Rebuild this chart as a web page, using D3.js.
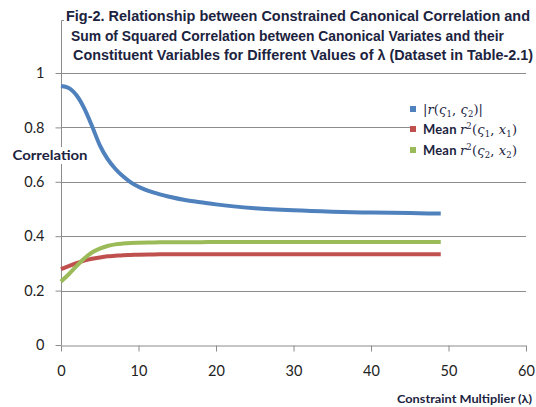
<!DOCTYPE html>
<html>
<head>
<meta charset="utf-8">
<script src="https://cdn.jsdelivr.net/npm/d3@7"></script>
<style>
  body { margin: 0; background: #fff; }
  svg { display: block; }
  .tick text { font-family: Lato, "Open Sans", sans-serif; font-size: 14.5px; fill: #222; }
</style>
</head>
<body>
<svg id="chart" width="536" height="407"></svg>
<script>
// lambda values the curves were read at
const lambdas = [0, 1, 2, 3, 4, 5, 6, 7, 8, 9, 10, 12, 14, 16, 18, 20, 25, 30, 35, 40, 45, 49]
// |r(s1,s2)|
const canonCorr = [0.952, 0.945, 0.918, 0.870, 0.805, 0.735, 0.684, 0.648, 0.620, 0.598, 0.582,
  0.560, 0.545, 0.533, 0.525, 0.517, 0.503, 0.495, 0.490, 0.487, 0.485, 0.483]
// mean r^2(s1,x1)
const meanR2x1 = [0.279, 0.290, 0.301, 0.310, 0.317, 0.322, 0.326, 0.328, 0.330, 0.331, 0.332,
  0.333, 0.334, 0.334, 0.334, 0.334, 0.334, 0.334, 0.334, 0.334, 0.334, 0.334]
// mean r^2(s2,x2)
const meanR2x2 = [0.233, 0.260, 0.290, 0.318, 0.340, 0.354, 0.364, 0.370, 0.373, 0.375, 0.376,
  0.377, 0.378, 0.378, 0.378, 0.379, 0.379, 0.379, 0.379, 0.379, 0.379, 0.379]

const yTicks = [0, 0.2, 0.4, 0.6, 0.8, 1]
const xTicks = [0, 10, 20, 30, 40, 50, 60]
const titleLines = [
  'Fig-2. Relationship between Constrained Canonical Correlation and',
  'Sum of Squared Correlation between Canonical Variates and their',
  'Constituent Variables for Different Values of \u03bb (Dataset in Table-2.1)'
]

const svg = d3.select('#chart')
const xScale = d3.scaleLinear().domain([0, 60]).range([61, 526])
const yScale = d3.scaleLinear().domain([0, 1]).range([345, 73])
const gridColor = '#8c8c8c'

// gridlines
svg.append('g')
  .selectAll('line')
  .data(yTicks.filter(d => d > 0))
  .enter()
  .append('line')
  .attr('x1', xScale(0))
  .attr('x2', xScale(60))
  .attr('y1', d => Math.round(yScale(d)) + 0.5)
  .attr('y2', d => Math.round(yScale(d)) + 0.5)
  .style('stroke', gridColor)
  .style('stroke-width', 1)

// y axis
const yAxis = d3.axisLeft(yScale)
  .tickValues(yTicks)
  .tickSize(6)
  .tickPadding(11)
  .tickFormat(d => d === 0 || d === 1 ? String(d) : d.toFixed(1))
const gy = svg.append('g')
  .attr('transform', 'translate(' + (xScale(0) + 0.5) + ',0)')
  .call(yAxis)
gy.select('.domain').remove()
gy.selectAll('.tick line').style('stroke', gridColor)
svg.append('path')
  .attr('d', 'M64,20.5H61.5V345')
  .style('fill', 'none')
  .style('stroke', gridColor)

// x axis
const xAxis = d3.axisBottom(xScale)
  .tickValues(xTicks)
  .tickSize(6)
  .tickSizeOuter(0)
  .tickPadding(14)
const gx = svg.append('g')
  .attr('transform', 'translate(0,' + (yScale(0) + 0.5) + ')')
  .call(xAxis)
gx.select('.domain').style('stroke', gridColor)
gx.selectAll('.tick line').style('stroke', gridColor)

// series lines
const series = [
  { values: canonCorr, color: '#4f81bd', w: 60 },
  { values: meanR2x1, color: '#c0504d', w: 94 },
  { values: meanR2x2, color: '#9bbb59', w: 94 }
]
const line = d3.line()
  .x((d, i) => xScale(lambdas[i]))
  .y(d => yScale(d))
  .curve(d3.curveMonotoneX)

svg.append('g')
  .selectAll('path')
  .data(series)
  .enter()
  .append('path')
  .attr('d', d => line(d.values))
  .style('fill', 'none')
  .style('stroke', d => d.color)
  .style('stroke-width', 4)
  .style('stroke-linejoin', 'round')

// title
const titleX = [66, 71, 73]
const titleW = [464, 433, 460]
svg.append('g')
  .selectAll('text')
  .data(titleLines)
  .enter()
  .append('text')
  .attr('x', (d, i) => titleX[i])
  .attr('y', (d, i) => 21 + i * 19.5)
  .attr('textLength', (d, i) => titleW[i])
  .attr('lengthAdjust', 'spacingAndGlyphs')
  .style('font-family', '"Liberation Sans Narrow", "Arial Narrow", "Liberation Sans", sans-serif')
  .style('font-weight', 'bold')
  .style('font-size', '14.5px')
  .style('fill', '#1c2340')
  .text(d => d)

// y axis title with white box behind it
svg.append('rect')
  .attr('x', 11).attr('y', 147).attr('width', 79).attr('height', 17)
  .style('fill', '#fff')
svg.append('text')
  .attr('x', 12.5)
  .attr('y', 160)
  .attr('textLength', 75)
  .attr('lengthAdjust', 'spacingAndGlyphs')
  .style('font-family', 'Lato, "Open Sans", sans-serif')
  .style('font-weight', 'bold')
  .style('font-size', '13px')
  .style('fill', '#1c2340')
  .text('Correlation')

// x axis title
svg.append('text')
  .attr('x', 397)
  .attr('y', 403)
  .attr('textLength', 135)
  .attr('lengthAdjust', 'spacingAndGlyphs')
  .style('font-family', 'Lato, "Open Sans", sans-serif')
  .style('font-weight', 'bold')
  .style('font-size', '11px')
  .style('fill', '#1c2340')
  .text('Constraint Multiplier (\u03bb)')

// legend
svg.append('rect')
  .attr('x', 410).attr('y', 94).attr('width', 118).attr('height', 68)
  .style('fill', '#fff')
const legendY = [109, 129, 150]
const lg = svg.append('g')
  .selectAll('g')
  .data(series)
  .enter()
  .append('g')
  .attr('transform', (d, i) => 'translate(413,' + legendY[i] + ')')
lg.append('rect')
  .attr('x', -3).attr('y', -3).attr('width', 6).attr('height', 6)
  .style('fill', d => d.color)

const mathFont = '"DejaVu Serif", "Liberation Serif", serif'
const sansFont = 'Lato, "Open Sans", sans-serif'
function addLabel(g, parts, w) {
  const t = g.append('text')
    .attr('x', 10)
    .attr('y', 4.5)
    .attr('textLength', w)
    .attr('lengthAdjust', 'spacing')
    .style('font-size', '13px')
    .style('fill', '#1c2340')
  parts.forEach(p => {
    const s = t.append('tspan')
      .style('font-family', p.sans ? sansFont : mathFont)
      .style('font-weight', p.sans ? 'bold' : 'normal')
      .style('font-style', p.it ? 'italic' : 'normal')
      .text(p.t)
    if (p.sub) s.attr('baseline-shift', '-3').style('font-size', '8.5px')
    if (p.sup) s.attr('baseline-shift', '5').style('font-size', '8.5px')
  })
}
addLabel(d3.select(lg.nodes()[0]), [
  { t: '|' }, { t: 'r', it: true }, { t: '(' }, { t: '\u03c2', it: true }, { t: '1', sub: true },
  { t: ', ' }, { t: '\u03c2', it: true }, { t: '2', sub: true }, { t: ')|' }
], series[0].w)
addLabel(d3.select(lg.nodes()[1]), [
  { t: 'Mean ', sans: true }, { t: 'r', it: true }, { t: '2', sup: true }, { t: '(' },
  { t: '\u03c2', it: true }, { t: '1', sub: true }, { t: ', ' }, { t: 'x', it: true },
  { t: '1', sub: true }, { t: ')' }
], series[1].w)
addLabel(d3.select(lg.nodes()[2]), [
  { t: 'Mean ', sans: true }, { t: 'r', it: true }, { t: '2', sup: true }, { t: '(' },
  { t: '\u03c2', it: true }, { t: '2', sub: true }, { t: ', ' }, { t: 'x', it: true },
  { t: '2', sub: true }, { t: ')' }
], series[2].w)
</script>
</body>
</html>
